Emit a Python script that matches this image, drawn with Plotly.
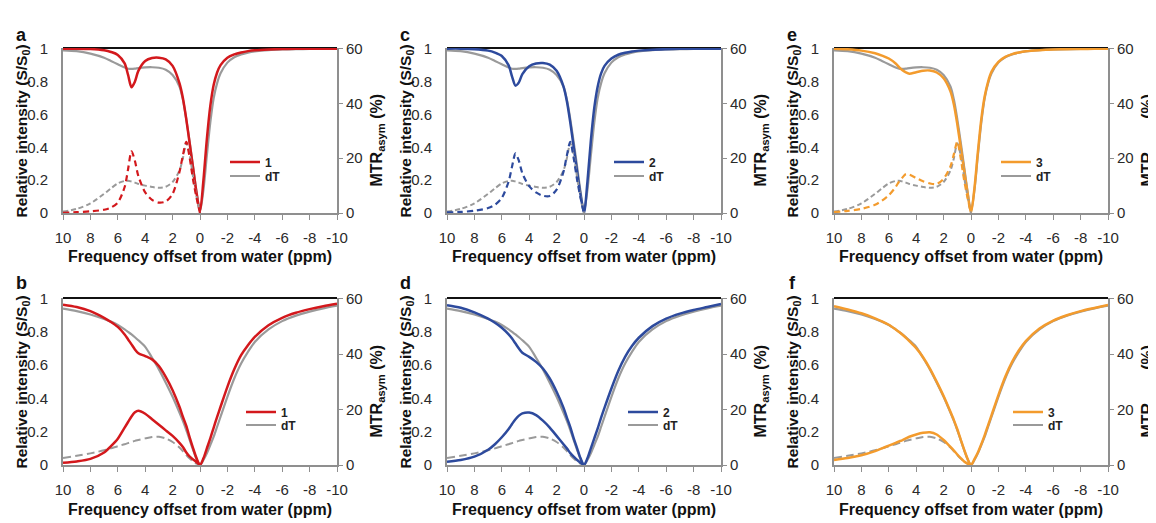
import plotly.graph_objects as go

# ---------------- data ----------------
X = [10, 9, 8, 7, 6.5, 6, 5.5, 5.25, 5, 4.75, 4.5, 4, 3.5, 3, 2.5, 2, 1.5, 1.25, 1,
     0.75, 0.5, 0.25, 0, -0.25, -0.5, -0.75, -1, -1.25, -1.5, -2, -2.5, -3, -3.5,
     -4, -5, -6, -7, -8, -9, -10]
XM = [10, 9, 8, 7, 6.5, 6, 5.5, 5.25, 5, 4.75, 4.5, 4, 3.5, 3, 2.5, 2, 1.5, 1.25, 1,
      0.75, 0.5, 0.25, 0]

# top row (Z-spectra, relative intensity)
Z_TOP_DT = [0.99, 0.985, 0.97, 0.945, 0.925, 0.905, 0.885, 0.878, 0.877, 0.879, 0.882, 0.886,
            0.887, 0.884, 0.872, 0.84, 0.77, 0.69, 0.57, 0.43, 0.28, 0.13, 0.01, 0.14, 0.35,
            0.55, 0.70, 0.79, 0.85, 0.915, 0.948, 0.965, 0.976, 0.983, 0.991, 0.995, 0.997,
            0.998, 0.999, 1.0]
Z_TOP_1 = [1.0, 1.0, 0.998, 0.99, 0.98, 0.962, 0.91, 0.84, 0.765, 0.80, 0.865, 0.925,
           0.943, 0.945, 0.935, 0.895, 0.79, 0.70, 0.57, 0.42, 0.27, 0.12, 0.01, 0.20, 0.45,
           0.65, 0.78, 0.855, 0.90, 0.945, 0.965, 0.977, 0.985, 0.99, 0.995, 0.998, 1.0,
           1.0, 1.0, 1.0]
Z_TOP_2 = [1.0, 1.0, 0.997, 0.988, 0.976, 0.955, 0.898, 0.83, 0.775, 0.795, 0.845, 0.893,
           0.91, 0.913, 0.903, 0.865, 0.77, 0.68, 0.55, 0.40, 0.25, 0.11, 0.0, 0.19, 0.44,
           0.64, 0.77, 0.85, 0.895, 0.94, 0.963, 0.975, 0.983, 0.988, 0.994, 0.997, 0.999,
           1.0, 1.0, 1.0]
Z_TOP_3 = [1.0, 0.996, 0.988, 0.972, 0.958, 0.94, 0.91, 0.888, 0.868, 0.855, 0.848, 0.857,
           0.866, 0.867, 0.855, 0.82, 0.74, 0.66, 0.54, 0.40, 0.26, 0.12, 0.0, 0.15, 0.37,
           0.57, 0.71, 0.80, 0.86, 0.92, 0.95, 0.967, 0.977, 0.984, 0.991, 0.995, 0.997,
           0.998, 0.999, 1.0]

# top row (MTR asym, %)
MTR_TOP_DT = [0.5, 1.5, 3.5, 7, 9, 10.8, 11.7, 11.8, 11.5, 11.1, 10.6, 10, 9.5, 9.2, 9.6,
              11.3, 15.5, 20, 25.5, 21, 13, 6, 0]
MTR_TOP_1 = [0.1, 0.3, 0.6, 1.2, 2, 3.8, 9.5, 16, 22.5, 19, 13.5, 7.5, 4.8, 3.8, 4.2, 7, 15,
             21, 26, 20, 12, 5.5, 0]
MTR_TOP_2 = [0.2, 0.4, 0.8, 1.8, 3, 5.5, 11.5, 17, 21.8, 19, 14.5, 9.8, 7.5, 6.3, 6.2, 8.5,
             15, 21, 26, 20, 12, 5.5, 0]
MTR_TOP_3 = [0.3, 0.8, 1.5, 3, 4.5, 6.5, 9.5, 11.5, 13, 14.2, 14, 12.8, 11.6, 10.8, 10.6,
             12.5, 17, 21.5, 26, 20, 12, 5.5, 0]

# bottom row (Z-spectra)
Z_BOT_DT = [0.94, 0.925, 0.905, 0.878, 0.862, 0.842, 0.815, 0.80, 0.785, 0.768, 0.75, 0.71,
            0.645, 0.575, 0.495, 0.41, 0.315, 0.265, 0.21, 0.15, 0.09, 0.035, 0.0, 0.03,
            0.07, 0.12, 0.17, 0.23, 0.29, 0.41, 0.52, 0.61, 0.68, 0.74, 0.815, 0.865, 0.898,
            0.922, 0.942, 0.958]
Z_BOT_1 = [0.964, 0.95, 0.925, 0.885, 0.86, 0.83, 0.785, 0.755, 0.725, 0.695, 0.672, 0.655,
           0.635, 0.595, 0.53, 0.45, 0.35, 0.29, 0.235, 0.165, 0.10, 0.04, 0.0, 0.04, 0.10,
           0.16, 0.225, 0.29, 0.35, 0.47, 0.575, 0.66, 0.72, 0.77, 0.84, 0.885, 0.915,
           0.937, 0.955, 0.97]
Z_BOT_2 = [0.96, 0.945, 0.918, 0.88, 0.855, 0.825, 0.785, 0.76, 0.73, 0.70, 0.675, 0.65,
           0.62, 0.58, 0.52, 0.44, 0.345, 0.285, 0.228, 0.16, 0.10, 0.04, 0.0, 0.04, 0.10,
           0.16, 0.22, 0.285, 0.345, 0.46, 0.565, 0.65, 0.715, 0.765, 0.835, 0.88, 0.91,
           0.932, 0.95, 0.968]
Z_BOT_3 = [0.955, 0.935, 0.912, 0.882, 0.864, 0.843, 0.815, 0.80, 0.783, 0.765, 0.745, 0.703,
           0.648, 0.58, 0.50, 0.415, 0.32, 0.27, 0.215, 0.153, 0.092, 0.037, 0.0, 0.035,
           0.075, 0.125, 0.18, 0.24, 0.30, 0.42, 0.53, 0.62, 0.69, 0.745, 0.82, 0.868, 0.90,
           0.925, 0.944, 0.962]

# bottom row (MTR asym, %)
MTR_BOT_DT = [2.5, 3.3, 4.2, 5.3, 6, 6.8, 7.5, 7.9, 8.3, 8.7, 9, 9.6, 10.1, 10.2, 9.6, 8.3,
              6.3, 5, 3.6, 2.3, 1.2, 0.5, 0]
MTR_BOT_1 = [0.8, 1.3, 2.2, 4.5, 6.8, 9.5, 13.5, 15.5, 17.5, 19, 19.6, 18.5, 16.5, 14.5,
             12.5, 10.5, 8, 6.5, 4.5, 3, 2, 1, 0]
MTR_BOT_2 = [1.2, 1.8, 3, 5.5, 7.5, 10, 13, 14.8, 16.5, 17.8, 18.6, 18.9, 18, 16, 13.5,
             10.5, 7.5, 6, 4.3, 3, 1.8, 0.8, 0]
MTR_BOT_3 = [1.8, 2.5, 3.5, 5, 6, 7, 8, 8.5, 9, 9.6, 10.2, 11, 11.6, 11.8, 11, 9, 6.5,
             5.2, 3.8, 2.5, 1.3, 0.5, 0]

X_TICKS = [10, 8, 6, 4, 2, 0, -2, -4, -6, -8, -10]
X_TICKTEXT = ["10", "8", "6", "4", "2", "0", "-2", "-4", "-6", "-8", "-10"]
Y_TICKS = [0, 0.2, 0.4, 0.6, 0.8, 1]
Y_TICKTEXT = ["0", "0.2", "0.4", "0.6", "0.8", "1"]
Y2_TICKS = [0, 20, 40, 60]
Y2_TICKTEXT = ["0", "20", "40", "60"]

LETTERS = ["a", "c", "e", "b", "d", "f"]
COMPOUNDS = ["1", "2", "3", "1", "2", "3"]

# ---------------- style ----------------
PAGE_OFFSET = 8                    # default body margin of the html page
W, H = 1156 - PAGE_OFFSET, 523 - PAGE_OFFSET
FONT = "Liberation Sans, Arial, Helvetica, sans-serif"
COLORS = {"1": "#d3181c", "2": "#2d4a9d", "3": "#f39b2d"}
GRAY = "#9a9a9a"
AXIS_GRAY = "#8f8f8f"
TEXT = "#2a2a2a"

# positions below are in window pixels
col_left = [63, 447, 834]
plot_w = 274
row_top = [48, 298]
row_h = [165, 167]
legend_text_x = [[266, 650, 1037], [282, 664, 1049]]
legend_rows_y = [[162, 176], [412, 425]]


def fx(p):
    return (p - PAGE_OFFSET) / W


def fy(p):
    return 1 - (p - PAGE_OFFSET) / H


def ax_id(letter, n):
    return letter if n == 1 else "%s%d" % (letter, n)


data_sets = [
    (Z_TOP_DT, Z_TOP_1, MTR_TOP_DT, MTR_TOP_1),
    (Z_TOP_DT, Z_TOP_2, MTR_TOP_DT, MTR_TOP_2),
    (Z_TOP_DT, Z_TOP_3, MTR_TOP_DT, MTR_TOP_3),
    (Z_BOT_DT, Z_BOT_1, MTR_BOT_DT, MTR_BOT_1),
    (Z_BOT_DT, Z_BOT_2, MTR_BOT_DT, MTR_BOT_2),
    (Z_BOT_DT, Z_BOT_3, MTR_BOT_DT, MTR_BOT_3),
]

fig = go.Figure()
layout = {}
annotations = []
shapes = []

for k in range(6):
    r, c = divmod(k, 3)
    comp = COMPOUNDS[k]
    color = COLORS[comp]
    zd, zc, md, mc = data_sets[k]
    xa = ax_id("x", k + 1)
    ya = ax_id("y", 2 * k + 1)
    ya2 = ax_id("y", 2 * k + 2)
    lg_c = ax_id("legend", 2 * k + 1)
    lg_d = ax_id("legend", 2 * k + 2)

    left, right = col_left[c], col_left[c] + plot_w
    top, bottom = row_top[r], row_top[r] + row_h[r]

    # MTR asym curves (right axis)
    fig.add_trace(go.Scatter(x=XM, y=md, xaxis=xa, yaxis=ya2, mode="lines",
                             line=dict(color=GRAY, width=2,
                                       dash="5px,3px" if r == 0 else "8px,4px",
                                       shape="spline", smoothing=0.8),
                             showlegend=False, hoverinfo="skip"))
    fig.add_trace(go.Scatter(x=XM, y=mc, xaxis=xa, yaxis=ya2, mode="lines",
                             line=dict(color=color, width=2.2 if r == 0 else 2.5,
                                       dash="6px,4px" if r == 0 else "solid",
                                       shape="spline", smoothing=0.8),
                             showlegend=False, hoverinfo="skip"))
    # Z-spectra (left axis)
    fig.add_trace(go.Scatter(x=X, y=zd, xaxis=xa, yaxis=ya, mode="lines", name="dT",
                             line=dict(color=GRAY, width=2.2, shape="spline", smoothing=0.8),
                             legend=lg_d, hoverinfo="skip"))
    fig.add_trace(go.Scatter(x=X, y=zc, xaxis=xa, yaxis=ya, mode="lines", name=comp,
                             line=dict(color=color, width=2.5, shape="spline", smoothing=0.8),
                             legend=lg_c, hoverinfo="skip"))

    layout[ax_id("xaxis", k + 1)] = dict(
        domain=[fx(left), fx(right)], anchor=ya, range=[10, -10], automargin=False,
        tickmode="array", tickvals=X_TICKS, ticktext=X_TICKTEXT,
        ticks="outside", ticklen=5, tickwidth=1, tickcolor=AXIS_GRAY,
        ticklabelstandoff=5,
        showline=True, linecolor=AXIS_GRAY, linewidth=2, showgrid=False, zeroline=False,
        tickfont=dict(family=FONT, size=15, color=TEXT), fixedrange=True)
    layout[ax_id("yaxis", 2 * k + 1)] = dict(
        domain=[fy(bottom), fy(top)], anchor=xa, range=[0, 1.004], automargin=False,
        tickmode="array", tickvals=Y_TICKS, ticktext=Y_TICKTEXT, ticks="",
        ticklabelstandoff=10,
        showline=True, linecolor=AXIS_GRAY, linewidth=2, showgrid=False, zeroline=False,
        tickfont=dict(family=FONT, size=15, color=TEXT), fixedrange=True)
    layout[ax_id("yaxis", 2 * k + 2)] = dict(
        domain=[fy(bottom), fy(top)], anchor=xa, overlaying=ya, side="right",
        range=[0, 60.24], automargin=False,
        tickmode="array", tickvals=Y2_TICKS, ticktext=Y2_TICKTEXT,
        ticks="outside", ticklen=4, tickwidth=1, tickcolor=AXIS_GRAY,
        showline=True, linecolor=AXIS_GRAY, linewidth=2, showgrid=False, zeroline=False,
        tickfont=dict(family=FONT, size=15, color=TEXT), fixedrange=True)

    # legends (one per entry to keep tight row spacing)
    tx = legend_text_x[r][c]
    for name_lg, yrow in ((lg_c, legend_rows_y[r][0]), (lg_d, legend_rows_y[r][1])):
        layout[name_lg] = dict(
            x=fx(tx - 41), y=fy(yrow), xanchor="left", yanchor="middle",
            bgcolor="rgba(0,0,0,0)", borderwidth=0, itemwidth=30,
            font=dict(family=FONT, size=12, color="#222222", weight="bold"),
            tracegroupgap=0)

    # black top border line of each panel
    shapes.append(dict(type="line", xref="%s domain" % xa, yref="%s domain" % ya,
                       x0=0, x1=1, y0=1, y1=1, line=dict(color="#111111", width=2),
                       layer="below"))

    # axis titles
    cy = (top + bottom) / 2
    annotations.append(dict(x=fx(left - 41), y=fy(cy + 1), xref="paper", yref="paper",
                            text="<b>Relative intensity (S/S<sub>0</sub>)</b>",
                            textangle=-90, showarrow=False, xanchor="center",
                            yanchor="middle",
                            font=dict(family=FONT, size=15.5, color="#111111")))
    annotations.append(dict(x=fx(right + 40), y=fy(cy + 10), xref="paper", yref="paper",
                            text="<b>MTR<sub>asym</sub> (%)</b>",
                            textangle=-90, showarrow=False, xanchor="center",
                            yanchor="middle",
                            font=dict(family=FONT, size=16, color="#111111")))
    annotations.append(dict(x=fx((left + right) / 2), y=fy(257 if r == 0 else 509),
                            xref="paper", yref="paper",
                            text="<b>Frequency offset from water (ppm)</b>",
                            showarrow=False, xanchor="center", yanchor="middle",
                            font=dict(family=FONT, size=16, color="#111111")))
    annotations.append(dict(x=fx(left - 42), y=fy(35 if r == 0 else 283),
                            xref="paper", yref="paper", text="<b>%s</b>" % LETTERS[k],
                            showarrow=False, xanchor="center", yanchor="middle",
                            font=dict(family=FONT, size=18, color="#111111")))

fig.update_layout(**layout)
fig.update_layout(
    template="none",
    width=W, height=H, margin=dict(l=0, r=0, t=0, b=0),
    paper_bgcolor="white", plot_bgcolor="white",
    annotations=annotations, shapes=shapes, showlegend=True,
    font=dict(family=FONT),
)

fig.write_html("out.html")
